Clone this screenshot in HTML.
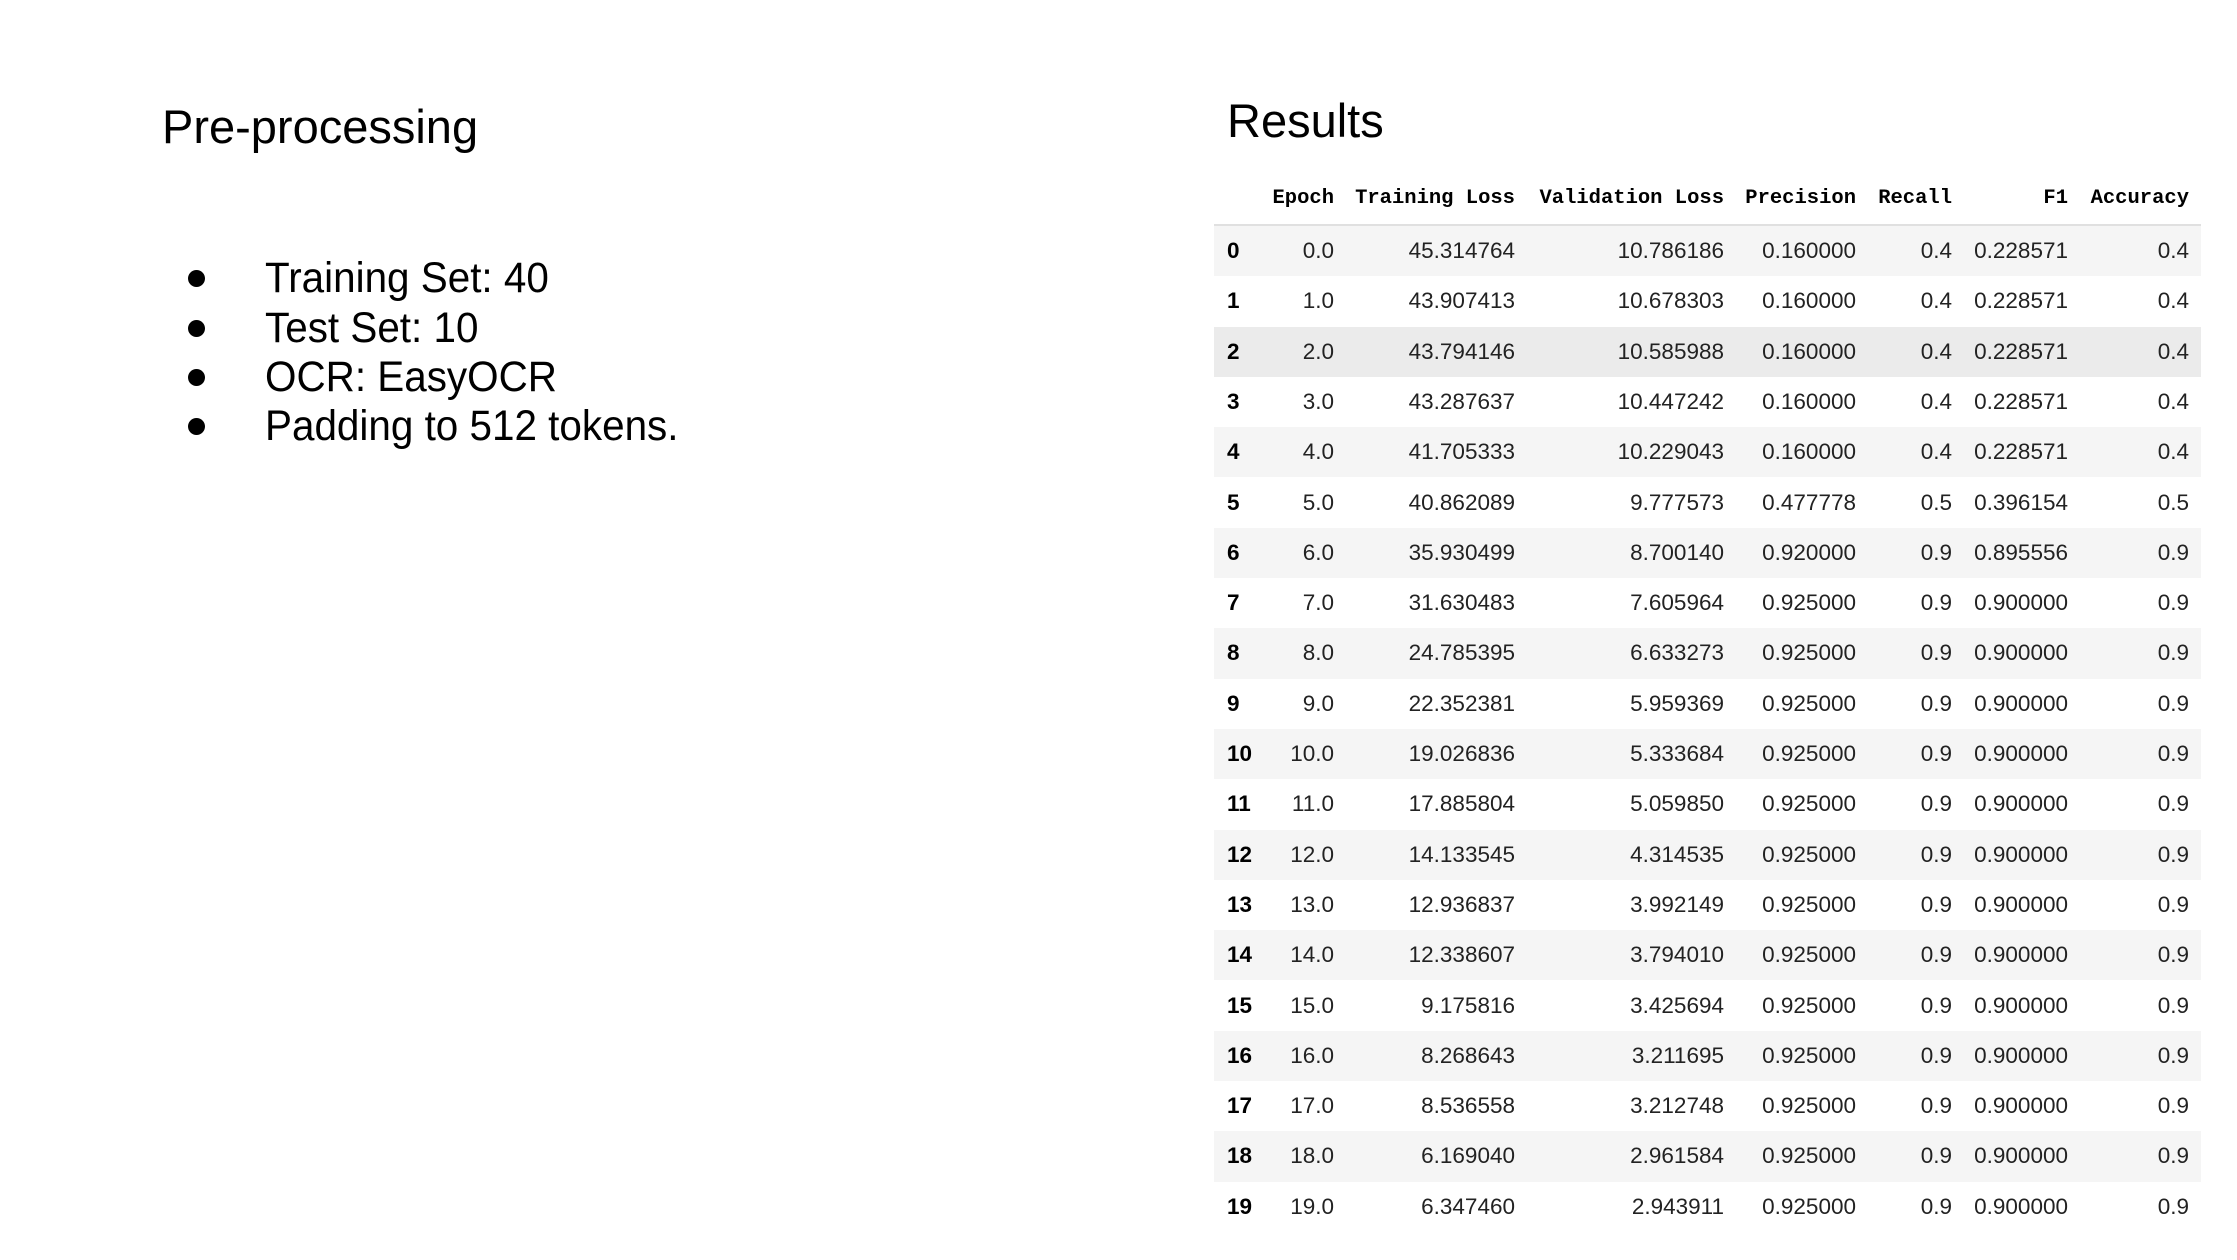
<!DOCTYPE html>
<html><head><meta charset="utf-8">
<style>
html,body{margin:0;padding:0;background:#fff;}
body{width:2237px;height:1260px;position:relative;overflow:hidden;font-family:"Liberation Sans",sans-serif;color:#000;}
.abs{position:absolute;}
.title{font-size:47px;line-height:56px;}
.bul{font-size:43px;line-height:50px;left:265px;transform:scaleX(0.94);transform-origin:left center;white-space:nowrap;}
.dot{position:absolute;width:17px;height:17px;border-radius:50%;background:#000;left:188px;}
.hdr{position:absolute;top:185px;font-family:"Liberation Mono",monospace;font-weight:bold;font-size:20.5px;line-height:28px;color:#000;white-space:nowrap;}
.row{position:absolute;left:1214px;width:987px;height:50.3px;}
.cell{position:absolute;font-family:"Liberation Sans",sans-serif;font-size:22.5px;line-height:50px;color:#222;white-space:nowrap;}
.idx{font-weight:bold;color:#000;}
</style></head>
<body>
<div class="abs title" style="left:162px;top:99px;">Pre-processing</div>
<div>
 <div class="dot" style="top:270px"></div>
 <div class="abs bul" style="top:253px">Training Set: 40</div>
 <div class="dot" style="top:320px"></div>
 <div class="abs bul" style="top:303px">Test Set: 10</div>
 <div class="dot" style="top:369px"></div>
 <div class="abs bul" style="top:352px">OCR: EasyOCR</div>
 <div class="dot" style="top:418px"></div>
 <div class="abs bul" style="top:401px">Padding to 512 tokens.</div>
</div>
<div class="abs title" style="left:1227px;top:93px;">Results</div>
<div id="table"></div>
<script>
const headers=["Epoch","Training Loss","Validation Loss","Precision","Recall","F1","Accuracy"];
const epoch=["0.0","1.0","2.0","3.0","4.0","5.0","6.0","7.0","8.0","9.0","10.0","11.0","12.0","13.0","14.0","15.0","16.0","17.0","18.0","19.0"];
const trainLoss=["45.314764","43.907413","43.794146","43.287637","41.705333","40.862089","35.930499","31.630483","24.785395","22.352381","19.026836","17.885804","14.133545","12.936837","12.338607","9.175816","8.268643","8.536558","6.169040","6.347460"];
const valLoss=["10.786186","10.678303","10.585988","10.447242","10.229043","9.777573","8.700140","7.605964","6.633273","5.959369","5.333684","5.059850","4.314535","3.992149","3.794010","3.425694","3.211695","3.212748","2.961584","2.943911"];
const precision=["0.160000","0.160000","0.160000","0.160000","0.160000","0.477778","0.920000","0.925000","0.925000","0.925000","0.925000","0.925000","0.925000","0.925000","0.925000","0.925000","0.925000","0.925000","0.925000","0.925000"];
const recall=["0.4","0.4","0.4","0.4","0.4","0.5","0.9","0.9","0.9","0.9","0.9","0.9","0.9","0.9","0.9","0.9","0.9","0.9","0.9","0.9"];
const f1=["0.228571","0.228571","0.228571","0.228571","0.228571","0.396154","0.895556","0.900000","0.900000","0.900000","0.900000","0.900000","0.900000","0.900000","0.900000","0.900000","0.900000","0.900000","0.900000","0.900000"];
const accuracy=["0.4","0.4","0.4","0.4","0.4","0.5","0.9","0.9","0.9","0.9","0.9","0.9","0.9","0.9","0.9","0.9","0.9","0.9","0.9","0.9"];
const cols=[epoch,trainLoss,valLoss,precision,recall,f1,accuracy];
const colNames=['epoch','training-loss','validation-loss','precision','recall','f1','accuracy'];
const rightEdges=[1334,1515,1724,1856,1952,2068,2189];
const tableLeft=1214, tableWidth=987;
const tbl=document.getElementById('table');
headers.forEach((h,i)=>{
  const d=document.createElement('div');
  d.className='hdr';
  
  
  d.style.right=(2237-rightEdges[i])+'px';
  d.textContent=h;
  tbl.appendChild(d);
});
const line=document.createElement('div');


line.style.cssText='position:absolute;left:'+tableLeft+'px;width:'+tableWidth+'px;top:224px;height:2px;background:#e0e0e0;';
tbl.appendChild(line);
for(let r=0;r<epoch.length;r++){
  const row=document.createElement('div');
  row.className='row';
  
  
  row.style.top=(226+r*50.3)+'px';
  row.style.background=(r===2)?'#ebebeb':(r%2===0?'#f5f5f5':'#fff');
  const ix=document.createElement('div');
  ix.className='cell idx';
  
  
  ix.style.left='13px';
  ix.textContent=String(r);
  row.appendChild(ix);
  cols.forEach((c,i)=>{
    const d=document.createElement('div');
    d.className='cell';
    
    
    d.style.right=(tableLeft+tableWidth-rightEdges[i])+'px';
    d.textContent=c[r];
    row.appendChild(d);
  });
  tbl.appendChild(row);
}
</script>
</body></html>
